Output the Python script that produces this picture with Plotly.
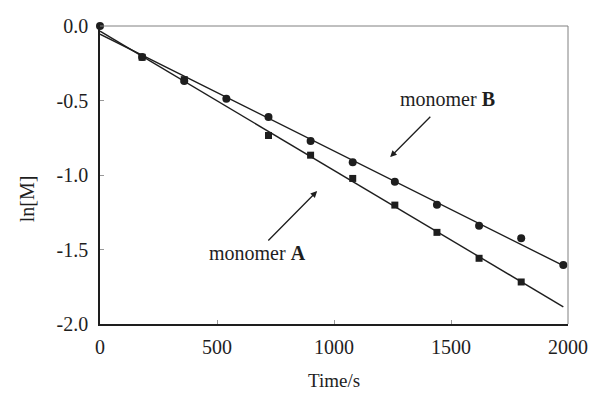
import numpy as np
import plotly.graph_objects as go

# Data (time in s, ln[M])
time_B = [0, 180, 360, 540, 720, 900, 1080, 1260, 1440, 1620, 1800, 1980]
lnM_B = [0.0, -0.208, -0.369, -0.489, -0.61, -0.771, -0.914, -1.046, -1.2, -1.34, -1.425, -1.604]

time_A = [180, 360, 720, 900, 1080, 1260, 1440, 1620, 1800]
lnM_A = [-0.21, -0.36, -0.735, -0.867, -1.023, -1.202, -1.385, -1.559, -1.718]

fit_range = [0, 1980]

x_ticks = [0, 500, 1000, 1500, 2000]
x_ticktext = ["0", "500", "1000", "1500", "2000"]
y_ticks = [0.0, -0.5, -1.0, -1.5, -2.0]
y_ticktext = ["0.0", "-0.5", "-1.0", "-1.5", "-2.0"]

FONT = "Liberation Serif, Times New Roman, serif"
INK = "#1e1e1e"

# linear fits
pA = np.polyfit(time_A, lnM_A, 1)
pB = np.polyfit(time_B, lnM_B, 1)
fx = np.array(fit_range, dtype=float)

fig = go.Figure()
fig.add_trace(go.Scatter(x=fx, y=np.polyval(pA, fx), mode="lines",
                         line=dict(color=INK, width=1.4), showlegend=False, cliponaxis=False))
fig.add_trace(go.Scatter(x=fx, y=np.polyval(pB, fx), mode="lines",
                         line=dict(color=INK, width=1.4), showlegend=False, cliponaxis=False))
fig.add_trace(go.Scatter(x=time_A, y=lnM_A, mode="markers",
                         marker=dict(symbol="square", size=7, color=INK),
                         showlegend=False, cliponaxis=False))
fig.add_trace(go.Scatter(x=time_B, y=lnM_B, mode="markers",
                         marker=dict(symbol="circle", size=8, color=INK),
                         showlegend=False, cliponaxis=False))

# top/right gray frame
fig.add_shape(type="line", xref="paper", yref="paper", x0=0, x1=1, y0=1, y1=1,
              line=dict(color="#808080", width=1))
fig.add_shape(type="line", xref="paper", yref="paper", x0=1, x1=1, y0=0, y1=1,
              line=dict(color="#808080", width=1))

# annotations
fig.add_annotation(x=1485, y=-0.491, xref="x", yref="y", text="monomer <b>B</b>",
                   showarrow=False, font=dict(family=FONT, size=20, color=INK))
fig.add_annotation(x=1240, y=-0.880, ax=1418, ay=-0.599, axref="x", ayref="y",
                   xref="x", yref="y", text="", showarrow=True, arrowhead=2,
                   arrowsize=1, arrowwidth=1.3, arrowcolor=INK)
fig.add_annotation(x=671, y=-1.524, xref="x", yref="y", text="monomer <b>A</b>",
                   showarrow=False, font=dict(family=FONT, size=20, color=INK))
fig.add_annotation(x=928, y=-1.108, ax=713, ay=-1.45, axref="x", ayref="y",
                   xref="x", yref="y", text="", showarrow=True, arrowhead=2,
                   arrowsize=1, arrowwidth=1.3, arrowcolor=INK)

# axis titles
fig.add_annotation(x=0.5, y=-0.19, xref="paper", yref="paper", text="Time/s",
                   showarrow=False, xanchor="center", yanchor="middle",
                   font=dict(family=FONT, size=19, color=INK))
fig.add_annotation(x=-0.156, y=0.422, xref="paper", yref="paper", text="ln[M]",
                   showarrow=False, xanchor="center", yanchor="middle", textangle=-90,
                   font=dict(family=FONT, size=20, color=INK))

fig.update_layout(
    width=600, height=394,
    margin=dict(l=100, r=26, t=26, b=70),
    paper_bgcolor="white", plot_bgcolor="white",
    font=dict(family=FONT, size=20, color=INK),
    showlegend=False,
)
fig.update_xaxes(range=[0, 2000], tickvals=x_ticks, ticktext=x_ticktext,
                 ticks="inside", ticklen=4, tickcolor="#999", tickwidth=1,
                 showline=True, linecolor=INK, linewidth=1.6, showgrid=False,
                 zeroline=False, ticklabelstandoff=4)
fig.update_yaxes(range=[-2, 0], tickvals=y_ticks, ticktext=y_ticktext,
                 ticks="inside", ticklen=4, tickcolor="#999", tickwidth=1,
                 showline=True, linecolor=INK, linewidth=1.6, showgrid=False,
                 zeroline=False, ticklabelstandoff=6)

fig.write_html("out.html")
